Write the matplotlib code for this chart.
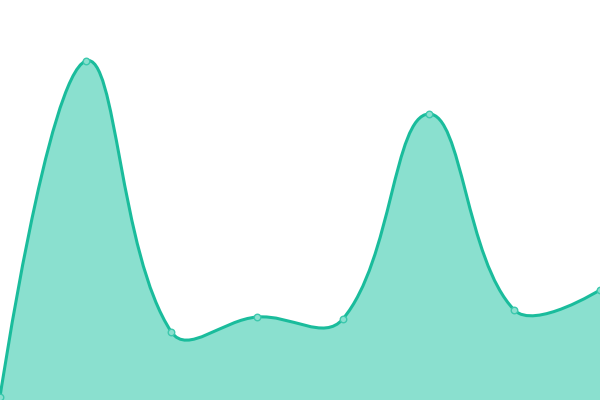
import numpy as np
import matplotlib.pyplot as plt
from matplotlib.path import Path
from matplotlib.patches import PathPatch

# valores (0 = borde inferior)
categorias = list(range(8))
valores = [3, 339, 68, 83, 81, 286, 90, 110]

linea_color = '#1abc9c'
relleno_color = '#8ae0cf'


def curva_suave(x, y, smooth=0.4, escala_x=600 / 7):
    # asas proporcionales a la longitud de cada tramo (en pixeles)
    pts = np.column_stack([np.asarray(x, float) * escala_x, y]).astype(float)
    n = len(pts)
    cin = pts.copy()
    cout = pts.copy()
    for i in range(1, n - 1):
        p0, p1, p2 = pts[i - 1], pts[i], pts[i + 1]
        v = (p2 - p0) * smooth
        d0 = np.hypot(*(p1 - p0))
        d1 = np.hypot(*(p2 - p1))
        cin[i] = p1 - v * d0 / (d0 + d1)
        cout[i] = p1 + v * d1 / (d0 + d1)
    verts = [pts[0]]
    codes = [Path.MOVETO]
    for i in range(n - 1):
        verts += [cout[i], cin[i + 1], pts[i + 1]]
        codes += [Path.CURVE4] * 3
    verts = [(vx / escala_x, vy) for vx, vy in verts]
    return verts, codes


fig = plt.figure(figsize=(6, 4), dpi=100)
ax = fig.add_axes([0, 0, 1, 1])

verts, codes = curva_suave(categorias, valores)

# relleno
v_fill = verts + [(categorias[-1], 0), (categorias[0], 0), verts[0]]
c_fill = codes + [Path.LINETO, Path.LINETO, Path.CLOSEPOLY]
ax.add_patch(PathPatch(Path(v_fill, c_fill), facecolor=relleno_color,
                       edgecolor='none', zorder=1))
# linea
ax.add_patch(PathPatch(Path(verts, codes), facecolor='none',
                       edgecolor=linea_color, lw=2.2, zorder=2,
                       capstyle='round', joinstyle='round'))
# puntos
ax.scatter(categorias, valores, s=22, facecolor=relleno_color,
           edgecolor='#3cc8ad', linewidth=1, zorder=3, clip_on=False)

ax.set_xlim(0, 7)
ax.set_ylim(0, 400)
ax.axis('off')

fig.savefig('out.png', dpi=100)
